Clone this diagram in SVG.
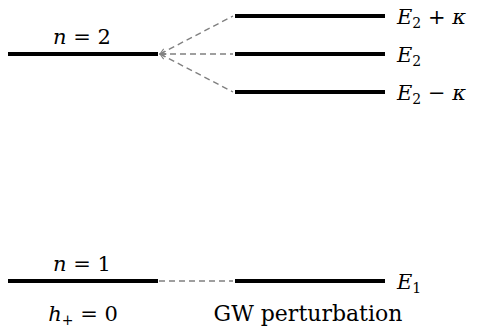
<svg xmlns="http://www.w3.org/2000/svg" width="479" height="331" viewBox="0 0 479 331" font-family="'DejaVu Serif', 'Liberation Serif', serif" font-size="21">
<defs>
<marker id="ah" viewBox="0 0 10 10" refX="9" refY="5" markerWidth="7" markerHeight="7" orient="auto-start-reverse" markerUnits="userSpaceOnUse">
<path d="M1,1 L9,5 L1,9" fill="none" stroke="#808080" stroke-width="1.5"/>
</marker>
<style>
.lvl{stroke:#000;stroke-width:3.8;fill:none}
.dash{stroke:#808080;stroke-width:1.4;stroke-dasharray:6,4;fill:none}
text{fill:#000}
.i{font-style:italic}
.s{font-size:14px}
.t{font-size:22px}
</style>
</defs>
<rect width="479" height="331" fill="#fff"/>
<g id="connectors">
<line class="dash" x1="160" y1="54" x2="233" y2="16" marker-start="url(#ah)"/>
<line class="dash" x1="160" y1="54" x2="233" y2="54" marker-start="url(#ah)"/>
<line class="dash" x1="160" y1="54" x2="233" y2="92" marker-start="url(#ah)"/>
<line class="dash" x1="159" y1="281" x2="233" y2="281"/>
</g>
<g id="n2">
<line class="lvl" x1="8" y1="54" x2="158" y2="54"/>
<text x="82" y="44" text-anchor="middle"><tspan class="i">n</tspan> = 2</text>
</g>
<g id="E2plus">
<line class="lvl" x1="235" y1="16" x2="385" y2="16"/>
<text x="397" y="24"><tspan class="i">E</tspan><tspan class="s" dy="4">2</tspan><tspan dy="-4"> + </tspan><tspan class="i">κ</tspan></text>
</g>
<g id="E2">
<line class="lvl" x1="235" y1="54" x2="385" y2="54"/>
<text x="397" y="62"><tspan class="i">E</tspan><tspan class="s" dy="4">2</tspan></text>
</g>
<g id="E2minus">
<line class="lvl" x1="235" y1="92" x2="385" y2="92"/>
<text x="397" y="100"><tspan class="i">E</tspan><tspan class="s" dy="4">2</tspan><tspan dy="-4"> − </tspan><tspan class="i">κ</tspan></text>
</g>
<g id="n1">
<line class="lvl" x1="8" y1="281" x2="158" y2="281"/>
<text x="82" y="271" text-anchor="middle"><tspan class="i">n</tspan> = 1</text>
</g>
<g id="E1">
<line class="lvl" x1="235" y1="281" x2="385" y2="281"/>
<text x="397" y="289"><tspan class="i">E</tspan><tspan class="s" dy="4">1</tspan></text>
</g>
<g id="labels">
<text x="83" y="321" text-anchor="middle"><tspan class="i">h</tspan><tspan class="s" dy="4">+</tspan><tspan dy="-4"> = 0</tspan></text>
<text class="t" x="308" y="321" text-anchor="middle">GW perturbation</text>
</g>
</svg>
